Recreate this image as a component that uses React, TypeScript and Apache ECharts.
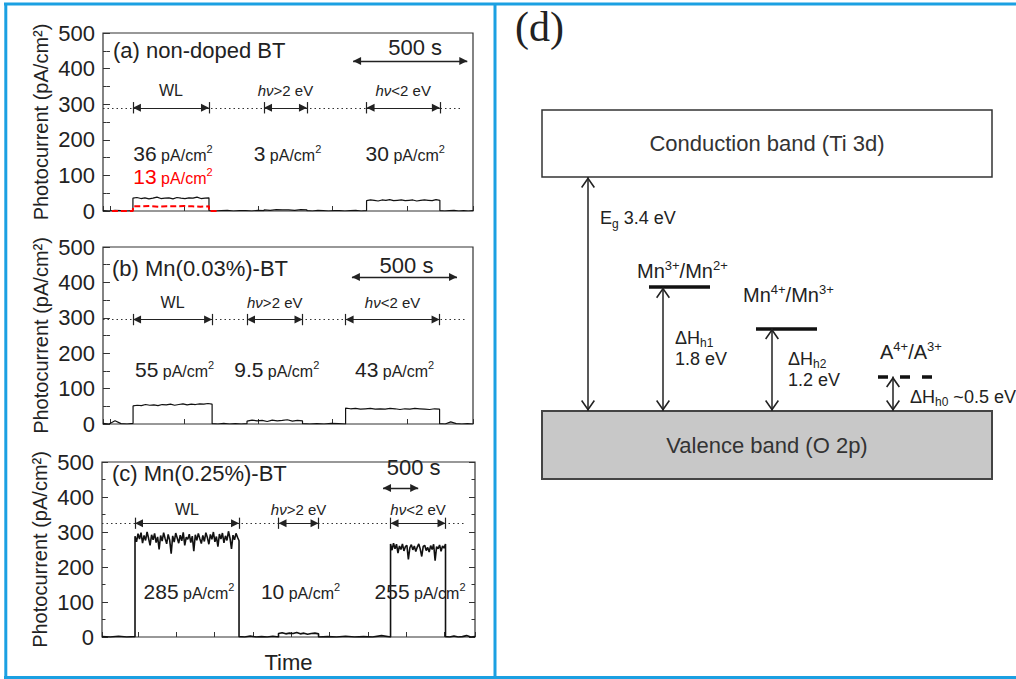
import React, { useEffect, useRef } from "react";
import * as echarts from "echarts";

const SANS = "'Liberation Sans', Arial, Helvetica, sans-serif";
const SERIF = "'Liberation Serif', 'Times New Roman', serif";
const INK = "#222222";
const TRACE = "#111111";
const BLUE = "#1ba0e2";

// ---------- photocurrent transients (panels a–c) ----------
const panelTitles = ["(a) non-doped BT", "(b) Mn(0.03%)-BT", "(c) Mn(0.25%)-BT"];
const lightNames = ["WL", ">2 eV", "<2 eV"];
const timeSpan = [1620, 1760, 5300]; // s

// switching times (s): dark | WL | dark | hν>2 eV | dark | hν<2 eV | dark
const switchA = [0, 131, 464, 705, 893, 1154, 1475, 1620];
const switchB = [0, 143, 519, 685, 949, 1154, 1601, 1760];
const switchC = [0, 469, 1947, 2508, 3077, 4100, 4881, 5300];

// photocurrent samples (pA/cm²) within each segment
const traceA = [
  [1, 0, 2, 1, 0, 1],
  [36, 38, 35, 37, 34, 36, 39, 35, 36, 37, 34, 38, 36, 35, 37, 36, 39, 35, 36, 37],
  [1, 0, 1, 2, 0, 1, 1, 0, 2, 1],
  [3, 2, 4, 3, 3, 2, 4, 3],
  [1, 0, 2, 1, 0, 1, 1, 0, 1, 2, 0, 1],
  [29, 31, 30, 28, 31, 30, 32, 29, 30, 31, 29, 30, 31, 28, 30, 31, 30, 29, 32, 30],
  [1, 0, 1, 2, 0, 1, 0, 1],
];
const traceB = [
  [2, 0, 9, 1, 0, 2],
  [51, 53, 52, 55, 53, 54, 52, 55, 54, 56, 53, 55, 57, 54, 56, 55, 57, 56, 58, 56],
  [1, 0, 2, 0, 1, 0, 1],
  [8, 11, 9, 10, 7, 11, 9, 10, 12, 8, 10, 9],
  [1, 0, 1, 0, 2, 1, 0],
  [45, 43, 44, 42, 43, 44, 42, 43, 42, 44, 43, 41, 43, 42, 44, 43, 42, 41, 43, 42],
  [1, 0, 6, 1, 0, 1, 0],
];
const traceC = [
  [1, 0, 2, 0, 1],
  [288, 272, 295, 280, 298, 268, 290, 276, 300, 282, 262, 292, 278, 296, 270, 286, 250, 290, 274, 298,
    281, 266, 293, 277, 238, 289, 271, 297, 283, 268, 291, 275, 299, 262, 285, 279, 294, 270, 288, 245,
    292, 276, 296, 281, 267, 290, 273, 298, 284, 265, 293, 279, 300, 272, 287, 258, 294, 280, 297, 269,
    289, 276, 302, 283, 252, 291, 278, 296, 285, 275],
  [1, 0, 3, 0, 1, 0, 2, 0],
  [10, 12, 9, 11, 10, 13, 9, 11, 8, 10, 11, 9],
  [0, 1, 0, 2, 0, 1, 0, 4, 0],
  [266, 248, 268, 252, 265, 240, 260, 250, 266, 246, 258, 262, 222, 255, 264, 249, 260, 244, 257, 266,
    251, 230, 259, 262, 247, 256, 243, 261, 250, 265, 218, 258, 252, 263, 245, 260, 254, 266],
  [1, 0, 3, 0, 1, 4, 0, 1],
];
// white-light response of non-doped BT, second measurement (red)
const switchRedA = [39, 131, 464, 503];
const traceRedA = [[0, 0, 0, 0], [13, 13, 14, 12, 13, 13, 14, 13, 12, 13], [0, 0, 0]];

// stated steady-state photocurrents (pA/cm²) for WL, hν>2 eV, hν<2 eV
const ratesA = [36, 3, 30];
const ratesB = [55, 9.5, 43];
const ratesC = [285, 10, 255];
const rateRedA = 13;

const switches = [switchA, switchB, switchC];
const traces = [traceA, traceB, traceC];
const rates = [ratesA, ratesB, ratesC];

// annotation placement (data units)
const refLevel = [290, 295, 325];
const dotEnd = [1576, 1722, 5158];
const valueLabelLevel = [162, 153, 129];
const redLabelLevel = 96;
const SCALE_BAR = 500; // s
const scaleBarStart = [1095, 1184, 3993];
const scaleBarLevel = [421, 415, 426];

const grids = [
  { left: 103, top: 33, width: 370, height: 178 },
  { left: 103, top: 247, width: 370, height: 177 },
  { left: 102, top: 462, width: 373, height: 175 },
];
const tickAxisRange = [
  [-0.094, 4.889],
  [-0.094, 4.889],
  [0.06, 9.8],
];

// ---------- energy diagram (panel d) ----------
const bandGap = 3.4; // eV
const levelEnergy = [1.8, 1.2, 0.5]; // eV above valence band
const levelSup = [["Mn", "3+", "/Mn", "2+"], ["Mn", "4+", "/Mn", "3+"], ["A", "4+", "/A", "3+"]];
const gapSub = ["h1", "h2", "h0"];
const D_GRID = { left: 542, top: 110, width: 450, height: 369 };
const energyMin = -0.988;
const energyMax = 4.374;
const levelSpan = [[107, 168], [214, 275], [336, 391]];
const levelArrowX = [121, 230, 351];
const gapArrowX = 46;

const ARROW = "path://M5,0L5.01,0L5,0.01Z M5,10L10,20L0,20Z";
const CHEVRON = "path://M7,0L7.01,0L7,0.01Z M7,11L14,21L12.7,22L7,13.8L1.3,22L0,21Z";

function segmentData(times: number[], values: number[][]) {
  const out: number[][] = [];
  values.forEach((seg, i) => {
    const t0 = times[i];
    const t1 = times[i + 1];
    const n = seg.length;
    seg.forEach((v, k) => {
      out.push([n === 1 ? t0 : t0 + ((t1 - t0) * k) / (n - 1), v]);
    });
  });
  return out;
}

const axisTickStyle = { color: "#333", width: 1 };

function panelAxes(p: number) {
  const g = p;
  const xAxes = [
    {
      gridIndex: g, type: "value", position: "bottom", min: 0, max: timeSpan[p],
      axisLine: { show: false }, axisTick: { show: false }, axisLabel: { show: false }, splitLine: { show: false },
      name: p === 2 ? "Time" : "", nameLocation: "middle", nameGap: 14,
      nameTextStyle: { fontSize: 22, color: INK, fontFamily: SANS },
    },
    {
      gridIndex: g, type: "value", position: "bottom", min: tickAxisRange[p][0], max: tickAxisRange[p][1],
      splitNumber: p === 2 ? 10 : 5,
      axisLine: { show: false }, axisLabel: { show: false }, splitLine: { show: false },
      axisTick: { show: true, inside: true, length: 5, lineStyle: axisTickStyle },
    },
  ];
  const common = {
    gridIndex: g, type: "value", min: 0, max: 500, interval: 100,
    axisLine: { show: false }, splitLine: { show: false },
    axisTick: { show: true, inside: true, length: 6, lineStyle: axisTickStyle },
    minorTick: { show: true, splitNumber: 2, length: 3.5, lineStyle: axisTickStyle },
  };
  const yAxes = [
    {
      ...common, position: "left",
      axisLabel: { show: true, fontSize: 22, color: INK, fontFamily: SANS, margin: 8 },
      name: "Photocurrent (pA/cm²)", nameLocation: "middle", nameGap: 52,
      nameTextStyle: { fontSize: 20, color: INK, fontFamily: SANS },
    },
    { ...common, position: "right", axisLabel: { show: false } },
  ];
  return { xAxes, yAxes };
}

function panelSeries(p: number) {
  const S = switches[p];
  const ref = refLevel[p];
  const lineStyle = { color: "#222", width: 1.2, type: "solid" };
  const ml: any[] = [];
  ml.push([
    { coord: [0, ref], lineStyle: { color: "#333", width: 1.2, type: [1.5, 3] } },
    { coord: [dotEnd[p], ref] },
  ]);
  for (let k = 0; k < 3; k++) {
    const t0 = S[2 * k + 1];
    const t1 = S[2 * k + 2];
    ml.push([
      { coord: [t0, ref], symbol: ARROW, symbolSize: [8, 16], lineStyle },
      { coord: [t1, ref], symbol: ARROW, symbolSize: [8, 16] },
    ]);
    ml.push([{ coord: [t0, ref - 16], lineStyle }, { coord: [t0, ref + 16] }]);
    ml.push([{ coord: [t1, ref - 16], lineStyle }, { coord: [t1, ref + 16] }]);
  }
  ml.push([
    { coord: [scaleBarStart[p], scaleBarLevel[p]], symbol: ARROW, symbolSize: [8, 16], lineStyle: { ...lineStyle, width: 1.4 } },
    { coord: [scaleBarStart[p] + SCALE_BAR, scaleBarLevel[p]], symbol: ARROW, symbolSize: [8, 16] },
  ]);

  const series: any[] = [
    {
      type: "line", xAxisIndex: 2 * p, yAxisIndex: 2 * p, data: segmentData(S, traces[p]),
      symbol: "none", showSymbol: false, z: 3,
      lineStyle: { color: TRACE, width: p === 2 ? 1.6 : 1.2 },
      markLine: {
        silent: true, symbol: ["none", "none"], label: { show: false }, animation: false,
        lineStyle: { color: "#222", width: 1.2, type: "solid" }, data: ml,
      },
    },
  ];
  if (p === 0) {
    series.push({
      type: "line", xAxisIndex: 0, yAxisIndex: 0, data: segmentData(switchRedA, traceRedA),
      symbol: "none", showSymbol: false, z: 4,
      lineStyle: { color: "#ff0000", width: 2, type: [6, 3] },
    });
  }
  return series;
}

function diagramSeries() {
  const lineStyle = { color: "#222", width: 1.5, type: "solid" };
  const ml: any[] = [];
  ml.push([
    { coord: [gapArrowX, 0], symbol: CHEVRON, symbolSize: [14, 22], lineStyle },
    { coord: [gapArrowX, bandGap], symbol: CHEVRON, symbolSize: [14, 22] },
  ]);
  levelEnergy.forEach((e, i) => {
    ml.push([
      { coord: [levelSpan[i][0], e], lineStyle: { color: "#111", width: 3.5, type: i === 2 ? [10, 12] : "solid" } },
      { coord: [levelSpan[i][1], e] },
    ]);
    ml.push([
      { coord: [levelArrowX[i], 0], symbol: CHEVRON, symbolSize: [14, 22], lineStyle },
      { coord: [levelArrowX[i], e], symbol: CHEVRON, symbolSize: [14, 22] },
    ]);
  });
  const bandLabel = { show: true, position: "inside", fontSize: 22, color: "#333", fontFamily: SANS };
  return {
    type: "line", xAxisIndex: 6, yAxisIndex: 6, data: [], symbol: "none",
    markArea: {
      silent: true,
      data: [
        [
          { name: "Conduction band (Ti 3d)", xAxis: 0, yAxis: bandGap, itemStyle: { color: "#ffffff", borderColor: "#333", borderWidth: 1.5 }, label: bandLabel },
          { xAxis: D_GRID.width, yAxis: energyMax },
        ],
        [
          { name: "Valence band (O 2p)", xAxis: 0, yAxis: energyMin, itemStyle: { color: "#c8c8c8", borderColor: "#444", borderWidth: 2 }, label: bandLabel },
          { xAxis: D_GRID.width, yAxis: 0 },
        ],
      ],
    },
    markLine: {
      silent: true, symbol: ["none", "none"], label: { show: false }, animation: false,
      lineStyle, data: ml,
    },
  };
}

function buildOption() {
  const grid: any[] = grids.map((g) => ({
    ...g, show: true, borderColor: "#333", borderWidth: 1.2, backgroundColor: "transparent",
  }));
  grid.push({ ...D_GRID, show: false });
  const xAxis: any[] = [];
  const yAxis: any[] = [];
  const series: any[] = [];
  for (let p = 0; p < 3; p++) {
    const { xAxes, yAxes } = panelAxes(p);
    xAxis.push(...xAxes);
    yAxis.push(...yAxes);
    series.push(...panelSeries(p));
  }
  xAxis.push({ gridIndex: 3, type: "value", min: 0, max: D_GRID.width, show: false });
  yAxis.push({ gridIndex: 3, type: "value", min: energyMin, max: energyMax, show: false });
  series.push(diagramSeries());
  return { animation: false, backgroundColor: "#ffffff", grid, xAxis, yAxis, series };
}

// ---------- text runs with sub/superscripts ----------
type Part = { t: string; size: number; dy?: number; italic?: boolean; color?: string; family?: string };
const measureCtx = document.createElement("canvas").getContext("2d") as CanvasRenderingContext2D;

function textRun(parts: Part[], x: number, centerY: number, align: "left" | "center", color = INK) {
  const widths = parts.map((p) => {
    measureCtx.font = `${p.italic ? "italic " : ""}${p.size}px ${p.family ?? SANS}`;
    return measureCtx.measureText(p.t).width;
  });
  const total = widths.reduce((a, b) => a + b, 0);
  const mainSize = Math.max(...parts.map((p) => p.size));
  const baseline = centerY + 0.35 * mainSize;
  let cx = align === "left" ? x : x - total / 2;
  return parts.map((p, i) => {
    const el = {
      type: "text", silent: true, z: 10,
      x: cx, y: baseline + (p.dy ?? 0) - 0.35 * p.size,
      style: {
        text: p.t, fontSize: p.size, fontFamily: p.family ?? SANS, fontStyle: p.italic ? "italic" : "normal",
        fill: p.color ?? color, align: "left", verticalAlign: "middle",
      },
    };
    cx += widths[i];
    return el;
  });
}

function rateParts(v: number, color = INK): Part[] {
  return [
    { t: String(v), size: 21, color },
    { t: " pA/cm", size: 16, color },
    { t: "2", size: 11, dy: -8, color },
  ];
}

function buildGraphics(chart: echarts.ECharts) {
  const els: any[] = [];
  const titlePos = [[113, 50], [112, 268], [112, 473]];
  const nameLift = [17, 17, 14];
  const barTextOffset = [[5, -14], [2, -12], [13, -20]];
  for (let p = 0; p < 3; p++) {
    const toPx = (t: number, v: number) =>
      chart.convertToPixel({ xAxisIndex: 2 * p, yAxisIndex: 2 * p }, [t, v]) as number[];
    const S = switches[p];
    els.push(...textRun([{ t: panelTitles[p], size: 22 }], titlePos[p][0], titlePos[p][1], "left"));
    const [bx, by] = toPx(scaleBarStart[p] + SCALE_BAR / 2, scaleBarLevel[p]);
    els.push(...textRun([{ t: `${SCALE_BAR} s`, size: 22 }], bx + barTextOffset[p][0], by + barTextOffset[p][1], "center"));
    for (let k = 0; k < 3; k++) {
      const mid = (S[2 * k + 1] + S[2 * k + 2]) / 2;
      const [mx, my] = toPx(mid, refLevel[p]);
      const nameParts: Part[] = k === 0
        ? [{ t: lightNames[0], size: 16 }]
        : [{ t: "hν", size: 15, italic: true }, { t: lightNames[k], size: 15 }];
      els.push(...textRun(nameParts, mx, my - nameLift[p], "center"));
      const [vx, vy] = toPx(mid, valueLabelLevel[p]);
      els.push(...textRun(rateParts(rates[p][k]), vx + 2, vy, "center"));
      if (p === 0 && k === 0) {
        const [rx, ry] = toPx(mid, redLabelLevel);
        els.push(...textRun(rateParts(rateRedA, "#ff0000"), rx + 2, ry, "center"));
      }
    }
  }

  // energy diagram labels
  const e2p = (x: number, e: number) =>
    chart.convertToPixel({ xAxisIndex: 6, yAxisIndex: 6 }, [x, e]) as number[];
  els.push(...textRun([{ t: "(d)", size: 42, family: SERIF }], 515, 27, "left"));
  const [gx, gTop] = e2p(gapArrowX, bandGap);
  els.push(...textRun([{ t: "E", size: 18 }, { t: "g", size: 12, dy: 4 }, { t: ` ${bandGap} eV`, size: 18 }], gx + 12, gTop + 41, "left"));
  const valTop = e2p(0, 0)[1];
  const nameDx = [-12, -13, 2];
  const nameLiftD = [16, 33, 25];
  const gapDx = [12, 16, 17];
  levelEnergy.forEach((e, i) => {
    const [lx, ly] = e2p(levelSpan[i][0], e);
    const s = levelSup[i];
    els.push(...textRun([
      { t: s[0], size: 20 }, { t: s[1], size: 13, dy: -8 }, { t: s[2], size: 20 }, { t: s[3], size: 13, dy: -8 },
    ], lx + nameDx[i], ly - nameLiftD[i], "left"));
    const ax = e2p(levelArrowX[i], e)[0] + gapDx[i];
    if (i < 2) {
      const mid = (ly + valTop) / 2;
      els.push(...textRun([{ t: "ΔH", size: 18 }, { t: gapSub[i], size: 12, dy: 3 }], ax, mid - 11, "left"));
      els.push(...textRun([{ t: `${e} eV`, size: 18 }], ax, mid + 10, "left"));
    } else {
      els.push(...textRun([{ t: "ΔH", size: 18 }, { t: gapSub[i], size: 12, dy: 3 }, { t: ` ~${e} eV`, size: 18 }], ax, valTop - 14, "left"));
    }
  });

  // blue panel frames
  const frame = (x1: number, y1: number, x2: number, y2: number) => ({
    type: "line", silent: true, z: 20, shape: { x1, y1, x2, y2 }, style: { stroke: BLUE, lineWidth: 3 },
  });
  els.push(frame(4, 4, 1016, 4), frame(4, 677.5, 1016, 677.5), frame(5.8, 4, 5.8, 679), frame(495, 4, 495, 679));
  return els;
}

export default function App() {
  const ref = useRef<HTMLDivElement>(null);
  useEffect(() => {
    const el = ref.current as HTMLDivElement;
    const chart = echarts.init(el, undefined, { renderer: "svg" });
    chart.setOption(buildOption() as any);
    chart.setOption({ graphic: buildGraphics(chart) } as any);
    return () => chart.dispose();
  }, []);
  return (
    <div
      ref={ref}
      style={{ position: "fixed", left: 0, top: 0, width: 1016, height: 679, background: "#fff" }}
    />
  );
}
